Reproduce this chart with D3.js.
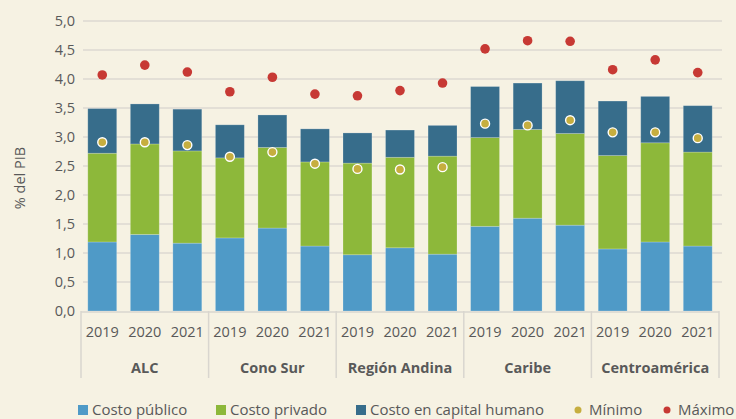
<!DOCTYPE html>
<html>
<head>
<meta charset="utf-8">
<script src="https://cdn.jsdelivr.net/npm/d3@7"></script>
<style>
  body { margin: 0; background: #f6f2e3; }
  svg { display: block; font-family: "Open Sans", "Noto Sans", sans-serif; }
</style>
</head>
<body>
<script>
// data
var regions = ["ALC", "Cono Sur", "Región Andina", "Caribe", "Centroamérica"];
var years = ["2019", "2020", "2021"];
var costoPublico = [1.19, 1.32, 1.17, 1.26, 1.43, 1.12, 0.97, 1.09, 0.98, 1.46, 1.60, 1.48, 1.07, 1.19, 1.12];
var costoPrivado = [1.53, 1.56, 1.59, 1.38, 1.39, 1.45, 1.58, 1.56, 1.69, 1.53, 1.53, 1.58, 1.61, 1.71, 1.62];
var costoHumano  = [0.77, 0.69, 0.72, 0.57, 0.56, 0.57, 0.52, 0.47, 0.53, 0.88, 0.80, 0.91, 0.94, 0.80, 0.80];
var minimo = [2.91, 2.91, 2.86, 2.66, 2.74, 2.54, 2.45, 2.44, 2.48, 3.23, 3.20, 3.29, 3.08, 3.08, 2.98];
var maximo = [4.07, 4.24, 4.12, 3.78, 4.03, 3.74, 3.71, 3.80, 3.93, 4.52, 4.66, 4.65, 4.16, 4.33, 4.11];
var yTicks = [0, 0.5, 1, 1.5, 2, 2.5, 3, 3.5, 4, 4.5, 5];

var seriesNames = ["Costo público", "Costo privado", "Costo en capital humano"];
var colors = ["#4f9ac7", "#8db83a", "#376d8b"];
var minColor = "#c6ae3f", maxColor = "#c73934";

var W = 736, H = 419;
var plotLeft = 81, plotRight = 719, plotTop = 21, plotBottom = 311;

var rows = [];
regions.forEach(function(r, gi) {
  years.forEach(function(yr, yi) {
    var i = gi * 3 + yi;
    rows.push({key: r + "|" + yr, region: r, year: yr,
      pub: costoPublico[i], priv: costoPrivado[i], hum: costoHumano[i],
      min: minimo[i], max: maximo[i]});
  });
});

var svg = d3.select("body").append("svg")
  .attr("width", W).attr("height", H);

svg.append("rect").attr("width", W).attr("height", H).attr("fill", "#f6f2e3");

var x = d3.scaleBand()
  .domain(rows.map(function(d) { return d.key; }))
  .range([plotLeft, plotRight])
  .paddingInner(0.32)
  .paddingOuter(0.16);

var y = d3.scaleLinear().domain([0, 5]).range([plotBottom, plotTop]);

// gridlines
svg.append("g").selectAll("line")
  .data(yTicks.slice(1))
  .enter().append("line")
  .attr("x1", plotLeft + 2).attr("x2", plotRight + 3)
  .attr("y1", function(d) { return y(d); })
  .attr("y2", function(d) { return y(d); })
  .attr("stroke", "#dcd9d2").attr("stroke-width", 1.5);

// y axis labels
var yAxis = d3.axisLeft(y).tickValues(yTicks)
  .tickFormat(function(d) { return d.toFixed(1).replace(".", ","); })
  .tickSize(0).tickPadding(0);
var ya = svg.append("g").attr("transform", "translate(75,0)").call(yAxis);
ya.select(".domain").remove();
ya.selectAll("text").attr("fill", "#595959").style("font-size", "14.5px")
  .style("font-family", "'Open Sans', sans-serif");

svg.append("text")
  .attr("transform", "translate(25,178) rotate(-90)")
  .attr("text-anchor", "middle")
  .attr("fill", "#595959")
  .style("font-size", "14.5px")
  .text("% del PIB");

// stacked bars
var stack = d3.stack().keys(["pub", "priv", "hum"]);
var layers = stack(rows);

svg.append("g").selectAll("g")
  .data(layers)
  .enter().append("g")
  .attr("fill", function(d, i) { return colors[i]; })
  .selectAll("rect")
  .data(function(d) { return d; })
  .enter().append("rect")
  .attr("x", function(d) { return x(d.data.key); })
  .attr("width", x.bandwidth())
  .attr("y", function(d) { return y(d[1]); })
  .attr("height", function(d) { return y(d[0]) - y(d[1]); })
  .attr("stroke", "rgba(255,255,255,0.25)")
  .attr("stroke-width", 0.8);

// max dots
svg.append("g").selectAll("circle")
  .data(rows)
  .enter().append("circle")
  .attr("cx", function(d) { return x(d.key) + x.bandwidth() / 2; })
  .attr("cy", function(d) { return y(d.max); })
  .attr("r", 4.8)
  .attr("fill", maxColor);

// min dots
svg.append("g").selectAll("circle")
  .data(rows)
  .enter().append("circle")
  .attr("cx", function(d) { return x(d.key) + x.bandwidth() / 2; })
  .attr("cy", function(d) { return y(d.min); })
  .attr("r", 4.5)
  .attr("fill", minColor)
  .attr("stroke", "#ffffff").attr("stroke-width", 1.4);

// x axis: baseline, separators, labels
var axisG = svg.append("g");
axisG.append("line")
  .attr("x1", plotLeft).attr("x2", plotRight)
  .attr("y1", plotBottom + 1).attr("y2", plotBottom + 1)
  .attr("stroke", "#d9d6cf").attr("stroke-width", 1.5);

var step = x.step();
var groupEdges = d3.range(regions.length + 1).map(function(i) {
  return i === regions.length ? plotRight : x(rows[i * 3].key) - x.paddingOuter() * step;
});
axisG.selectAll(".sep")
  .data(groupEdges)
  .enter().append("line")
  .attr("x1", function(d) { return d; }).attr("x2", function(d) { return d; })
  .attr("y1", plotBottom).attr("y2", 378)
  .attr("stroke", "#d9d6cf").attr("stroke-width", 1.5);

axisG.selectAll(".yr")
  .data(rows)
  .enter().append("text")
  .attr("x", function(d) { return x(d.key) + x.bandwidth() / 2; })
  .attr("y", 337)
  .attr("text-anchor", "middle")
  .attr("fill", "#595959")
  .style("font-size", "14.5px")
  .text(function(d) { return d.year; });

axisG.selectAll(".rg")
  .data(regions)
  .enter().append("text")
  .attr("x", function(d, i) { return (groupEdges[i] + groupEdges[i + 1]) / 2; })
  .attr("y", 373)
  .attr("text-anchor", "middle")
  .attr("fill", "#595959")
  .style("font-size", "14.5px")
  .style("font-weight", "bold")
  .text(function(d) { return d; });

// legend
var legend = [
  {name: seriesNames[0], color: colors[0], type: "sq", x: 78},
  {name: seriesNames[1], color: colors[1], type: "sq", x: 216},
  {name: seriesNames[2], color: colors[2], type: "sq", x: 356},
  {name: "Mínimo", color: minColor, type: "dot", x: 573},
  {name: "Máximo", color: maxColor, type: "dot", x: 662}
];
var lg = svg.append("g").selectAll("g")
  .data(legend)
  .enter().append("g")
  .attr("transform", function(d) { return "translate(" + d.x + ",410)"; });
lg.filter(function(d) { return d.type === "sq"; })
  .append("rect")
  .attr("x", 0).attr("y", -5).attr("width", 10).attr("height", 10)
  .attr("fill", function(d) { return d.color; });
lg.filter(function(d) { return d.type === "dot"; })
  .append("circle")
  .attr("cx", 5).attr("cy", 0).attr("r", 3.5)
  .attr("fill", function(d) { return d.color; });
lg.append("text")
  .attr("x", function(d) { return d.type === "sq" ? 14 : 16; })
  .attr("y", 5)
  .attr("fill", "#595959")
  .style("font-size", "15px")
  .text(function(d) { return d.name; });
</script>
</body>
</html>
